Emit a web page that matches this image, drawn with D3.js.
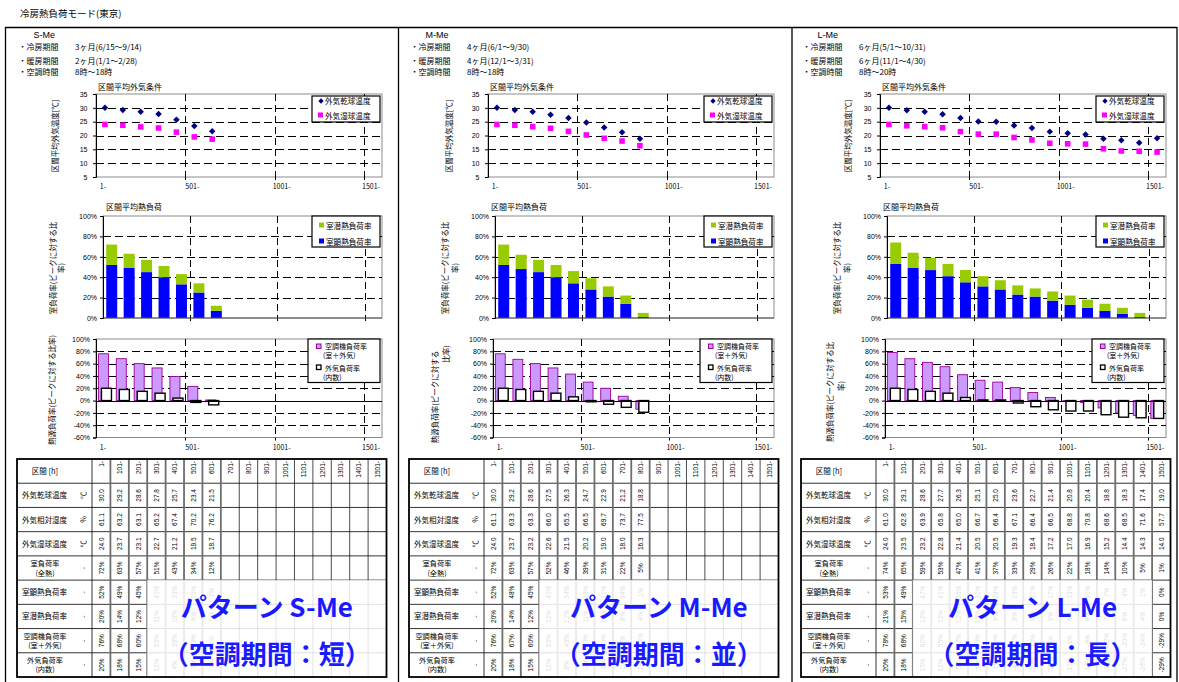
<!DOCTYPE html>
<html lang="ja">
<head>
<meta charset="utf-8">
<title>冷房熱負荷モード(東京)</title>
<script src="https://cdn.jsdelivr.net/npm/d3@7/dist/d3.min.js"></script>
<style>
html,body{margin:0;padding:0;background:#fff;}
svg{display:block;}
text{font-family:"Noto Sans CJK JP","Noto Sans",sans-serif;fill:#000;}
.num{font-family:"Liberation Sans",Arial,sans-serif;}
</style>
</head>
<body>
<svg id="chart" width="1179" height="682"></svg>
<script>
// ---- categories and ticks ----
const intervals = ["1-","101-","201-","301-","401-","501-","601-","701-","801-","901-","1001-","1101-","1201-","1301-","1401-","1501-"];
const axisLabels = ["1-","501-","1001-","1501-"];
const tempTicks = [5,10,15,20,25,30,35];
const roomTicks = [0,20,40,60,80,100];
const plantTicks = [-60,-40,-20,0,20,40,60,80,100];

// ---- pattern descriptions ----
const codes = ["S-Me","M-Me","L-Me"];
const coolingPeriods = ["3ヶ月(6/15～9/14)","4ヶ月(6/1～9/30)","6ヶ月(5/1～10/31)"];
const heatingPeriods = ["2ヶ月(1/1～2/28)","4ヶ月(12/1～3/31)","6ヶ月(11/1～4/30)"];
const operatingHours = ["8時～18時","8時～18時","8時～20時"];
const periodNames = ["短","並","長"];

// ---- S-Me ----
const sDry      = [30.0,29.2,28.6,27.8,25.7,23.4,21.5];
const sRH       = [61.1,63.2,63.1,65.2,67.4,70.2,76.2];
const sWet      = [24.0,23.7,23.1,22.7,21.2,19.5,18.7];
const sRoom     = [72,63,57,51,43,34,12];
const sSensible = [52,49,45,40,33,25,7];
const sLatent   = [20,14,12,11,10,9,5];
const sPlant    = [76,68,60,53,39,23,1];
const sOutdoor  = [20,18,15,12,4,-3,-7];

// ---- M-Me ----
const mDry      = [30.0,29.2,28.6,27.5,26.3,24.7,22.9,21.2,18.8];
const mRH       = [61.1,63.3,63.3,66.0,65.5,66.5,69.7,73.7,77.5];
const mWet      = [24.0,23.7,23.2,22.6,21.5,20.2,19.0,18.0,16.3];
const mRoom     = [72,63,57,52,46,39,31,22,5];
const mSensible = [52,48,45,40,34,28,21,14,1];
const mLatent   = [20,14,12,12,12,11,10,8,4];
const mPlant    = [76,67,60,53,43,30,20,7,-14];
const mOutdoor  = [20,18,15,12,6,-2,-6,-11,-19];

// ---- L-Me ----
const lDry      = [30.0,29.1,28.6,27.7,26.3,25.1,25.0,23.6,22.7,21.4,20.8,20.4,18.8,18.3,17.4,19.0];
const lRH       = [61.0,62.8,63.9,65.8,65.0,66.7,66.4,67.1,66.4,66.5,68.8,70.8,68.6,68.5,71.6,57.7];
const lWet      = [24.0,23.5,23.2,22.8,21.4,20.5,20.5,19.3,18.4,17.2,17.0,16.9,15.2,14.4,14.3,14.0];
const lRoom     = [74,65,59,53,47,41,37,33,29,26,22,18,14,10,5,1];
const lSensible = [53,49,47,41,35,31,28,23,21,17,13,10,7,4,1,0];
const lLatent   = [21,15,12,12,12,10,9,9,8,9,9,8,7,6,4,0];
const lPlant    = [78,68,62,55,42,33,30,21,13,5,-1,-3,-12,-20,-24,-29];
const lOutdoor  = [20,18,15,12,5,1,1,-4,-10,-15,-17,-17,-23,-27,-28,-29];

const patterns = [
  {code:codes[0], cooling:coolingPeriods[0], heating:heatingPeriods[0], hours:operatingHours[0], name:periodNames[0],
   dry:sDry, rh:sRH, wet:sWet, room:sRoom, sensible:sSensible, latent:sLatent, plant:sPlant, outdoor:sOutdoor},
  {code:codes[1], cooling:coolingPeriods[1], heating:heatingPeriods[1], hours:operatingHours[1], name:periodNames[1],
   dry:mDry, rh:mRH, wet:mWet, room:mRoom, sensible:mSensible, latent:mLatent, plant:mPlant, outdoor:mOutdoor},
  {code:codes[2], cooling:coolingPeriods[2], heating:heatingPeriods[2], hours:operatingHours[2], name:periodNames[2],
   dry:lDry, rh:lRH, wet:lWet, room:lRoom, sensible:lSensible, latent:lLatent, plant:lPlant, outdoor:lOutdoor}
];

// ---- page layout per panel ----
const layouts = [
  {x:5,   tempAxisX:49,   roomTitleX:101, roomAxis:[{n:13,x:47,y:268},{x:55.5,y:268}],
   plantLeft:91, plantAxis:[{x:46.7,y:390}], overlayFrom:3, overlayTo:16},
  {x:397, tempAxisX:51.3, roomTitleX:94,  roomAxis:[{n:13,x:47.3,y:268},{x:57,y:268}],
   plantLeft:96, plantAxis:[{n:13,x:37.3,y:397},{x:48,y:354}], overlayFrom:3, overlayTo:16},
  {x:789, tempAxisX:58,   roomTitleX:94,  roomAxis:[{n:13,x:47,y:268},{x:57.5,y:268}],
   plantLeft:96, plantAxis:[{n:14,x:40,y:392},{x:51,y:386}], overlayFrom:2, overlayTo:15}
];

const C = {dry:"#000080", wet:"#ff00ff", latent:"#99cc00", sensible:"#0000ff",
           plantFill:"#cc99ff", plantStroke:"#990099", border:"#8c8c8c", blue:"#1a1aff"};
const DASH = "8,4";

const svg = d3.select("#chart");
svg.append("rect").attr("width",1179).attr("height",682).attr("fill","#fff");

svg.append("text").attr("x",20).attr("y",16.5).attr("font-size",9.5).text("冷房熱負荷モード(東京)");

// outer frame of the three panels
svg.append("line").attr("x1",5).attr("x2",1177).attr("y1",27.5).attr("y2",27.5).attr("stroke","#000").attr("stroke-width",1.5);
[5.5,398.5,792,1177].forEach(x=>{
  svg.append("line").attr("x1",x).attr("x2",x).attr("y1",27).attr("y2",682).attr("stroke","#000").attr("stroke-width",1.3);
});

function axisTitle(g, str, spec){
  let rest = str;
  spec.forEach(s=>{
    const t = s.n ? rest.slice(0,s.n) : rest;
    rest = rest.slice(t.length);
    g.append("text").attr("transform",`translate(${s.x},${s.y}) rotate(-90)`)
      .attr("text-anchor","middle").attr("dominant-baseline","central")
      .attr("font-size",7.5).text(t);
  });
}

function styleYAxis(ax){
  ax.select(".domain").attr("stroke","#000").attr("stroke-width",1);
  ax.selectAll(".tick line").attr("stroke","#000");
  ax.selectAll(".tick text").attr("class","num").attr("font-size",7).attr("font-family","Liberation Sans, Arial, sans-serif").attr("fill","#000");
}

function plotFrame(g, x, y, L, R, T, B, hGrid){
  g.append("rect").attr("x",L).attr("y",T).attr("width",R-L).attr("height",B-T)
    .attr("fill","#fff").attr("stroke",C.border).attr("stroke-width",1);
  g.selectAll(null).data(hGrid).join("line")
    .attr("x1",L).attr("x2",R).attr("y1",d=>Math.round(y(d))+0.5).attr("y2",d=>Math.round(y(d))+0.5)
    .attr("stroke","#000").attr("stroke-width",1).attr("stroke-dasharray",DASH);
  const vx = [5,10,15].map(k=>Math.round(x(intervals[k]))+0.5);
  g.selectAll(null).data(vx).join("line")
    .attr("x1",d=>d).attr("x2",d=>d).attr("y1",T).attr("y2",B)
    .attr("stroke","#000").attr("stroke-width",1).attr("stroke-dasharray","7,4");
  g.selectAll(null).data(vx).join("line")
    .attr("x1",d=>d).attr("x2",d=>d).attr("y1",B).attr("y2",B+3)
    .attr("stroke","#000").attr("stroke-width",1);
}

function xLabels(g, x, yPos){
  const ax = g.append("g").attr("transform",`translate(-2,${yPos})`)
    .call(d3.axisBottom(x).tickValues(axisLabels).tickSize(0).tickPadding(0));
  ax.select(".domain").remove();
  ax.selectAll(".tick text").attr("font-size",7).attr("font-family","Liberation Sans, Arial, sans-serif").attr("fill","#000");
}

function drawPanel(P, Lo){
  const g = svg.append("g").attr("transform",`translate(${Lo.x},0)`);

  // ---- header ----
  g.append("text").attr("class","num").attr("x",28.5).attr("y",37.5).attr("font-size",9).text(P.code);
  const info = [["・冷房期間",P.cooling],["・暖房期間",P.heating],["・空調時間",P.hours]];
  [50,64,75].forEach((yy,k)=>{
    g.append("text").attr("x",13.5).attr("y",yy).attr("font-size",8).text(info[k][0]);
    g.append("text").attr("x",70).attr("y",yy).attr("font-size",8).text(info[k][1]);
  });

  // ---- outdoor conditions ----
  {
    const L=91,R=377,T=94,B=177;
    const x = d3.scaleBand().domain(intervals).range([L,R]);
    const y = d3.scaleLinear().domain([5,35]).range([B,T]);
    g.append("text").attr("x",93).attr("y",90).attr("font-size",8).text("区間平均外気条件");
    plotFrame(g,x,y,L,R,T,B,tempTicks.slice(1,-1));
    const ax = g.append("g").attr("transform",`translate(${L},0)`)
      .call(d3.axisLeft(y).tickValues(tempTicks).tickSize(3).tickPadding(5.5));
    styleYAxis(ax);
    xLabels(g,x,184.5);
    axisTitle(g,"区間平均外気温度[℃]",[{x:Lo.tempAxisX,y:136}]);
    const cx = i=>x(intervals[i])+x.bandwidth()/2;
    g.selectAll(null).data(P.dry).join("path")
      .attr("d",d3.symbol(d3.symbolSquare,21))
      .attr("transform",(d,i)=>`translate(${cx(i)},${y(d)}) rotate(45)`).attr("fill",C.dry);
    g.selectAll(null).data(P.wet).join("path")
      .attr("d",d3.symbol(d3.symbolSquare,31))
      .attr("transform",(d,i)=>`translate(${cx(i)},${y(d)})`).attr("fill",C.wet);
    // legend
    g.append("rect").attr("x",307).attr("y",96).attr("width",68).attr("height",26)
      .attr("fill","#fff").attr("stroke","#000").attr("stroke-width",1.2);
    g.append("path").attr("d",d3.symbol(d3.symbolSquare,14)).attr("transform","translate(316,101) rotate(45)").attr("fill",C.dry);
    g.append("text").attr("x",320).attr("y",104).attr("font-size",7.6).text("外気乾球温度");
    g.append("rect").attr("x",313).attr("y",112.5).attr("width",5).attr("height",5).attr("fill",C.wet);
    g.append("text").attr("x",320).attr("y",118.5).attr("font-size",7.6).text("外気湿球温度");
  }

  // ---- room load (stacked) ----
  {
    const L=98,R=377,T=216,B=318;
    const x = d3.scaleBand().domain(intervals).range([L,R]).paddingInner(0.37).paddingOuter(0.185);
    const xb = d3.scaleBand().domain(intervals).range([L,R]);
    const y = d3.scaleLinear().domain([0,100]).range([B,T]);
    g.append("text").attr("x",Lo.roomTitleX).attr("y",209.5).attr("font-size",8).text("区間平均熱負荷");
    plotFrame(g,xb,y,L,R,T,B,roomTicks.slice(1,-1));
    const rows = P.sensible.map((s,i)=>({key:intervals[i], sensible:s, latent:P.latent[i]}));
    const series = d3.stack().keys(["sensible","latent"])(rows);
    g.selectAll(null).data(series).join("g").attr("fill",d=>C[d.key])
      .selectAll("rect").data(d=>d).join("rect")
      .attr("x",d=>x(d.data.key)).attr("width",x.bandwidth())
      .attr("y",d=>y(d[1])).attr("height",d=>y(d[0])-y(d[1]));
    g.append("line").attr("x1",L).attr("x2",R).attr("y1",B).attr("y2",B).attr("stroke","#555");
    const ax = g.append("g").attr("transform",`translate(${L},0)`)
      .call(d3.axisLeft(y).tickValues(roomTicks).tickFormat(d=>d+"%").tickSize(3).tickPadding(3));
    styleYAxis(ax);
    axisTitle(g,"室負荷率(ピークに対する比率)",Lo.roomAxis);
    // legend
    g.append("rect").attr("x",307).attr("y",216).attr("width",68).attr("height",31)
      .attr("fill","#fff").attr("stroke","#000").attr("stroke-width",1.2);
    g.append("rect").attr("x",314).attr("y",222.5).attr("width",5).attr("height",5).attr("fill",C.latent);
    g.append("text").attr("x",321).attr("y",228.5).attr("font-size",7.6).text("室潜熱負荷率");
    g.append("rect").attr("x",314).attr("y",238.5).attr("width",5).attr("height",5).attr("fill",C.sensible);
    g.append("text").attr("x",321).attr("y",244.5).attr("font-size",7.6).text("室顕熱負荷率");
  }

  // ---- plant load ----
  {
    const L=Lo.plantLeft,R=377,T=339,B=437.5;
    const x = d3.scaleBand().domain(intervals).range([L,R]);
    const y = d3.scaleLinear().domain([-60,100]).range([B,T]);
    plotFrame(g,x,y,L,R,T,B,plantTicks.filter(d=>d!==0 && d!==-60 && d!==100));
    const bw = x.bandwidth(), w = bw*0.56, sh = bw*0.085;
    const cx = i=>x(intervals[i])+bw/2;
    g.selectAll(null).data(P.plant).join("rect")
      .attr("x",(d,i)=>cx(i)-sh-w/2).attr("width",w)
      .attr("y",d=>y(Math.max(d,0))).attr("height",d=>Math.abs(y(d)-y(0)))
      .attr("fill",C.plantFill).attr("stroke",C.plantStroke).attr("stroke-width",0.9);
    g.selectAll(null).data(P.outdoor).join("rect")
      .attr("x",(d,i)=>cx(i)+sh-w/2).attr("width",w)
      .attr("y",d=>y(Math.max(d,0))).attr("height",d=>Math.abs(y(d)-y(0)))
      .attr("fill","#fff").attr("stroke","#000").attr("stroke-width",1.4);
    g.append("line").attr("x1",L).attr("x2",R).attr("y1",Math.round(y(0))+0.5).attr("y2",Math.round(y(0))+0.5)
      .attr("stroke","#000").attr("stroke-width",1);
    const ax = g.append("g").attr("transform",`translate(${L},0)`)
      .call(d3.axisLeft(y).tickValues(plantTicks).tickFormat(d=>d+"%").tickSize(3).tickPadding(3));
    styleYAxis(ax);
    xLabels(g,x,445.5);
    axisTitle(g,"熱源負荷率(ピークに対する比率)",Lo.plantAxis);
    // legend
    g.append("rect").attr("x",303).attr("y",339).attr("width",72).attr("height",43.5)
      .attr("fill","#fff").attr("stroke","#000").attr("stroke-width",1.2);
    g.append("rect").attr("x",311.5).attr("y",344).attr("width",4.5).attr("height",4.5)
      .attr("fill",C.plantFill).attr("stroke",C.plantStroke).attr("stroke-width",1);
    g.append("text").attr("x",320).attr("y",349).attr("font-size",7).text("空調機負荷率");
    g.append("text").attr("x",318).attr("y",358).attr("font-size",7).text("(室＋外気)");
    g.append("rect").attr("x",311.5).attr("y",365).attr("width",4.5).attr("height",4.5)
      .attr("fill","#fff").attr("stroke","#000").attr("stroke-width",1.3);
    g.append("text").attr("x",320).attr("y",370.5).attr("font-size",7).text("外気負荷率");
    g.append("text").attr("x",318).attr("y",379.5).attr("font-size",7).text("(内数)");
  }

  // ---- table ----
  {
    const tl=12, tr=381.5, tt=459, tb=677, lw=75;
    const cw=(tr-tl-lw)/intervals.length, rh=(tb-tt)/9;
    const colX = j=>tl+lw+j*cw;
    const rowY = r=>tt+r*rh;
    const f1 = d3.format(".1f"), fp = d=>d+"%";
    const rowDefs = [
      {label:["外気乾球温度"], unit:"℃", vals:P.dry, fmt:f1},
      {label:["外気相対湿度"], unit:"%", vals:P.rh, fmt:f1},
      {label:["外気湿球温度"], unit:"℃", vals:P.wet, fmt:f1},
      {label:["室負荷率","(全熱)"], unit:"-", vals:P.room, fmt:fp},
      {label:["室顕熱負荷率"], unit:"-", vals:P.sensible, fmt:fp},
      {label:["室潜熱負荷率"], unit:"-", vals:P.latent, fmt:fp},
      {label:["空調機負荷率","(室＋外気)"], unit:"-", vals:P.plant, fmt:fp},
      {label:["外気負荷率","(内数)"], unit:"-", vals:P.outdoor, fmt:fp}
    ];
    const n = P.dry.length;
    const tg = g.append("g");
    // horizontal rules
    for(let r=1;r<9;r++){
      tg.append("line").attr("x1",tl).attr("x2",tr).attr("y1",rowY(r)).attr("y2",rowY(r))
        .attr("stroke","#000").attr("stroke-width",0.8);
    }
    // vertical rules
    tg.append("line").attr("x1",colX(0)).attr("x2",colX(0)).attr("y1",tt).attr("y2",tb).attr("stroke","#000").attr("stroke-width",0.8);
    for(let j=1;j<intervals.length;j++){
      const thick = j<=n;
      tg.append("line").attr("x1",colX(j)).attr("x2",colX(j)).attr("y1",tt).attr("y2",tb)
        .attr("stroke",thick?"#6e6e6e":"#000").attr("stroke-width",thick?1.8:0.7);
    }
    // header
    tg.append("text").attr("x",tl+28).attr("y",rowY(0)+rh/2+3).attr("text-anchor","middle").attr("font-size",7.5).text("区間 [h]");
    intervals.forEach((t,j)=>{
      tg.append("text").attr("class","num").attr("transform",`translate(${colX(j)+cw/2},${tt+2}) rotate(-90)`)
        .attr("text-anchor","end").attr("dominant-baseline","central").attr("font-size",6.5).text(t);
    });
    rowDefs.forEach((rd,r)=>{
      const cy = rowY(r+1)+rh/2;
      if(rd.label.length===1){
        tg.append("text").attr("x",tl+5).attr("y",cy+3).attr("font-size",7.5).text(rd.label[0]);
      } else {
        tg.append("text").attr("x",tl+28).attr("y",cy-2).attr("text-anchor","middle").attr("font-size",7.2).text(rd.label[0]);
        tg.append("text").attr("x",tl+28).attr("y",cy+7.5).attr("text-anchor","middle").attr("font-size",7.2).text(rd.label[1]);
      }
      tg.append("text").attr("transform",`translate(${tl+66},${cy}) rotate(-90)`)
        .attr("text-anchor","middle").attr("dominant-baseline","central").attr("font-size",7).text(rd.unit);
      rd.vals.forEach((v,j)=>{
        tg.append("text").attr("class","num").attr("transform",`translate(${colX(j)+cw/2},${cy}) rotate(-90)`)
          .attr("text-anchor","middle").attr("dominant-baseline","central").attr("font-size",6.5).text(rd.fmt(v));
      });
    });
    // caption panel over the lower table rows
    const ox0 = colX(Lo.overlayFrom), ox1 = colX(Lo.overlayTo), oy0 = rowY(5);
    tg.append("rect").attr("x",ox0).attr("y",oy0).attr("width",ox1-ox0).attr("height",tb-oy0)
      .attr("fill","#fff").attr("fill-opacity",0.85);
    const mx = (ox0+ox1)/2;
    tg.append("text").attr("x",mx).attr("y",605).attr("text-anchor","middle").attr("dominant-baseline","central")
      .attr("font-size",26).attr("font-weight","bold").style("fill",C.blue).text("パターン "+P.code);
    tg.append("text").attr("x",mx).attr("y",652).attr("text-anchor","middle").attr("dominant-baseline","central")
      .attr("font-size",26).attr("font-weight","bold").style("fill",C.blue).text("（空調期間：" + P.name + "）");
    // outer border
    tg.append("rect").attr("x",tl).attr("y",tt).attr("width",tr-tl).attr("height",tb-tt)
      .attr("fill","none").attr("stroke","#000").attr("stroke-width",1.8);
  }
}

patterns.forEach((P,i)=>drawPanel(P,layouts[i]));
</script>
</body>
</html>
